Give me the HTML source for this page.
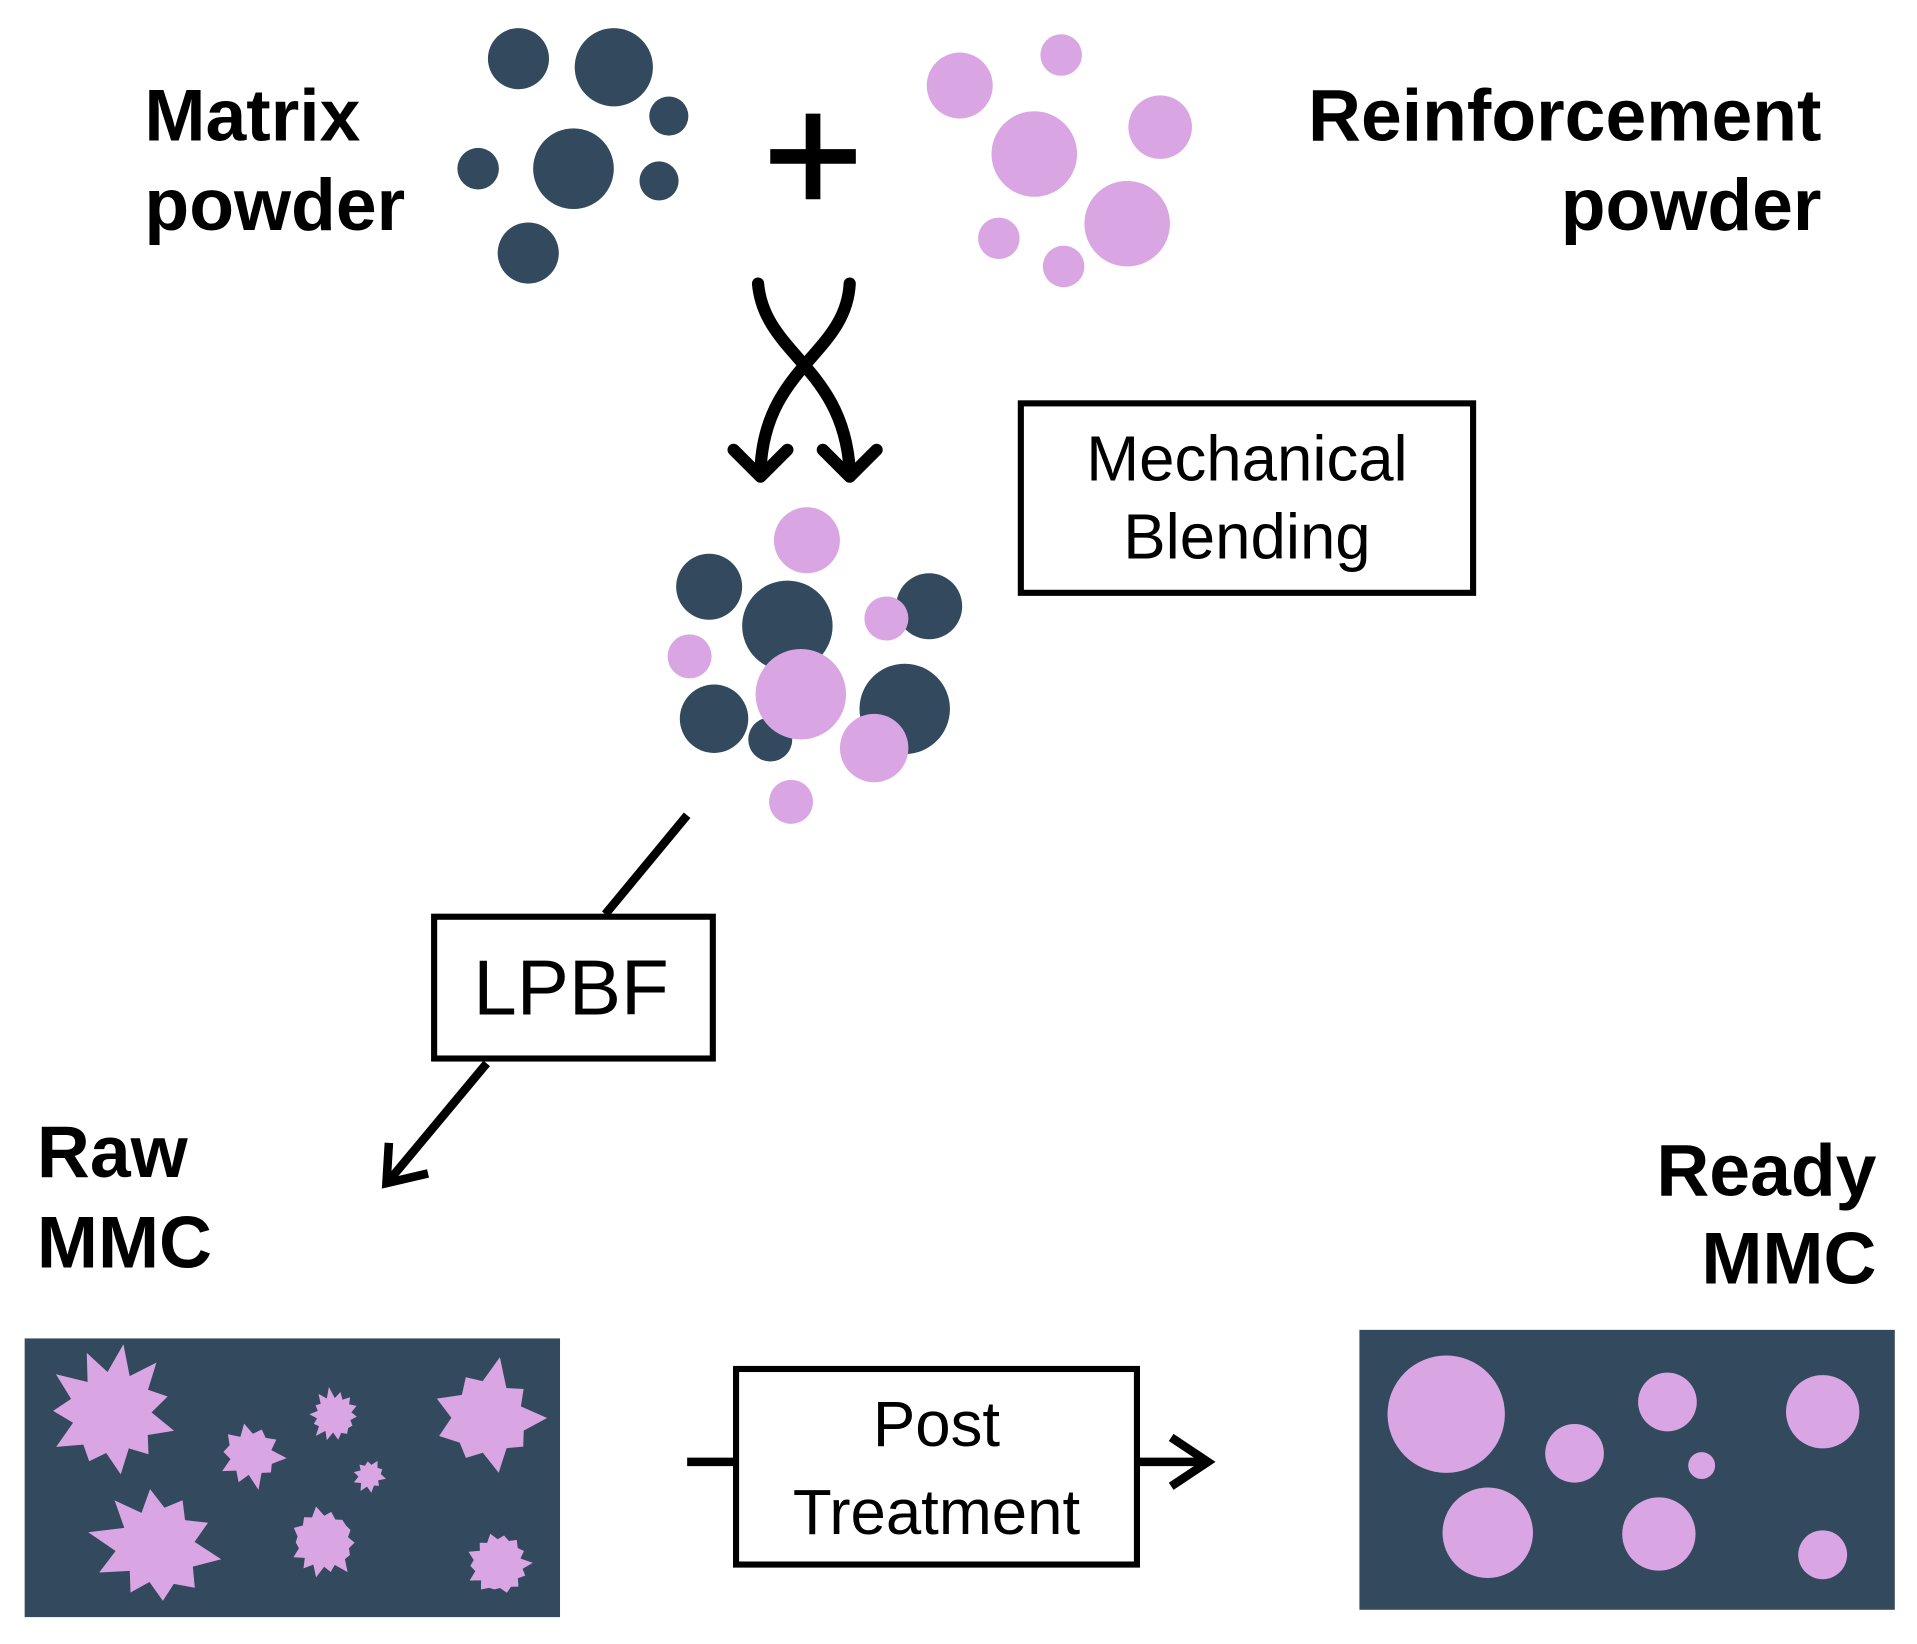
<!DOCTYPE html>
<html><head><meta charset="utf-8"><style>
html,body{margin:0;padding:0;background:#fff;}
svg{display:block;}
.b{font-family:"Liberation Sans",sans-serif;font-weight:bold;font-size:60px;fill:#000;}
.r{font-family:"Liberation Sans",sans-serif;font-size:52px;fill:#000;}
</style></head><body>
<svg id="s" width="1917" height="1644" viewBox="0 0 1568 1345" xmlns="http://www.w3.org/2000/svg">
<text class="b" x="118" y="115">Matrix</text>
<text class="b" x="118" y="188">powder</text>
<text class="b" x="1490" y="115" text-anchor="end">Reinforcement</text>
<text class="b" x="1490" y="188" text-anchor="end">powder</text>
<g fill="#334a5e">
<circle cx="424" cy="48" r="25"/><circle cx="502" cy="55" r="32"/><circle cx="547" cy="95" r="16"/>
<circle cx="391" cy="138" r="17"/><circle cx="469" cy="138" r="33"/><circle cx="539" cy="148" r="16"/>
<circle cx="432" cy="207" r="25"/>
</g>
<g fill="#d9a6e3">
<circle cx="785" cy="70" r="27"/><circle cx="868" cy="45" r="17"/><circle cx="846" cy="126" r="35"/>
<circle cx="949" cy="104" r="26"/><circle cx="922" cy="183" r="35"/><circle cx="817" cy="195" r="17"/>
<circle cx="870" cy="218" r="17"/>
</g>
<g stroke="#000" stroke-width="12"><line x1="630" y1="128" x2="700" y2="128"/><line x1="665" y1="93" x2="665" y2="163"/></g>
<g fill="none" stroke="#000" stroke-width="10" stroke-linecap="round" stroke-linejoin="round">
<path d="M620 232 C625 290 690 300 695 385"/>
<path d="M695 232 C692 290 625 300 622 385"/>
<path d="M600 368 L622 390 L644 368"/>
<path d="M673 368 L695 390 L717 368"/>
</g>
<rect x="835" y="330" width="370" height="155" fill="none" stroke="#000" stroke-width="5"/>
<text class="r" x="1020" y="393" text-anchor="middle">Mechanical</text>
<text class="r" x="1020" y="457" text-anchor="middle">Blending</text>
<g fill="#334a5e">
<circle cx="580" cy="480" r="27"/><circle cx="644" cy="512" r="37"/><circle cx="760" cy="496" r="27"/>
<circle cx="584" cy="588" r="28"/><circle cx="630" cy="605" r="18"/><circle cx="740" cy="580" r="37"/>
</g>
<g fill="#d9a6e3">
<circle cx="660" cy="442" r="27"/><circle cx="725" cy="506" r="18"/><circle cx="564" cy="537" r="18"/>
<circle cx="655" cy="568" r="37"/><circle cx="715" cy="612" r="28"/><circle cx="647" cy="656" r="18"/>
</g>
<g stroke="#000" stroke-width="7" fill="none" stroke-linejoin="miter">
<line x1="562" y1="667" x2="495" y2="748"/>
<line x1="398" y1="870" x2="318" y2="966"/>
<path d="M318 935 L316 968 L350 960"/>
</g>
<rect x="355" y="750" width="228" height="116" fill="none" stroke="#000" stroke-width="5"/>
<text class="r" x="467" y="830" text-anchor="middle" style="font-size:64px">LPBF</text>
<text class="b" x="30" y="963">Raw</text>
<text class="b" x="30" y="1037">MMC</text>
<text class="b" x="1535" y="978" text-anchor="end">Ready</text>
<text class="b" x="1535" y="1050" text-anchor="end">MMC</text>
<rect x="20" y="1095" width="438" height="228" fill="#334a5e"/>
<g id="stars" fill="#d9a6e3"></g>
<rect x="602" y="1120" width="328" height="160" fill="none" stroke="#000" stroke-width="5"/>
<text class="r" x="766" y="1183" text-anchor="middle">Post</text>
<text class="r" x="766" y="1255" text-anchor="middle">Treatment</text>
<g stroke="#000" stroke-width="7" fill="none">
<line x1="562" y1="1196" x2="602" y2="1196"/>
<line x1="930" y1="1196" x2="988" y2="1196"/>
<path d="M958 1176 L988 1196 L958 1216"/>
</g>
<rect x="1112" y="1088" width="438" height="229" fill="#334a5e"/>
<g fill="#d9a6e3">
<circle cx="1183" cy="1157" r="48"/><circle cx="1364" cy="1147" r="24"/><circle cx="1491" cy="1155" r="30"/>
<circle cx="1288" cy="1189" r="24"/><circle cx="1392" cy="1199" r="11"/><circle cx="1217" cy="1254" r="37"/>
<circle cx="1357" cy="1255" r="30"/><circle cx="1491" cy="1272" r="20"/>
</g>
</svg>
<script>
(function(){
var g=document.getElementById('stars');
var stars=[[92,1155,35,62,11,0.3],[205,1190,18,30,10,0.1],[273,1158,15,24,14,0.5],[302,1207,9,15,10,0.2],[400,1160,30,52,9,0.7],[128,1265,33,60,10,0.2],[265,1262,22,33,14,0.9],[408,1280,20,28,14,0.4]];
var seed=7;function rnd(){seed=(seed*9301+49297)%233280;return seed/233280;}
stars.forEach(function(s){
 var n=s[4],pts=[];
 for(var i=0;i<n*2;i++){
  var a=s[5]+i*Math.PI/n;
  var r=(i%2==0)? s[3]*(0.7+0.3*rnd()) : s[2]*(0.9+0.15*rnd());
  pts.push((s[0]+r*Math.cos(a)).toFixed(1)+','+(s[1]+r*Math.sin(a)).toFixed(1));
 }
 var p=document.createElementNS('http://www.w3.org/2000/svg','polygon');
 p.setAttribute('points',pts.join(' '));g.appendChild(p);
});
})();
</script>
</body></html>
